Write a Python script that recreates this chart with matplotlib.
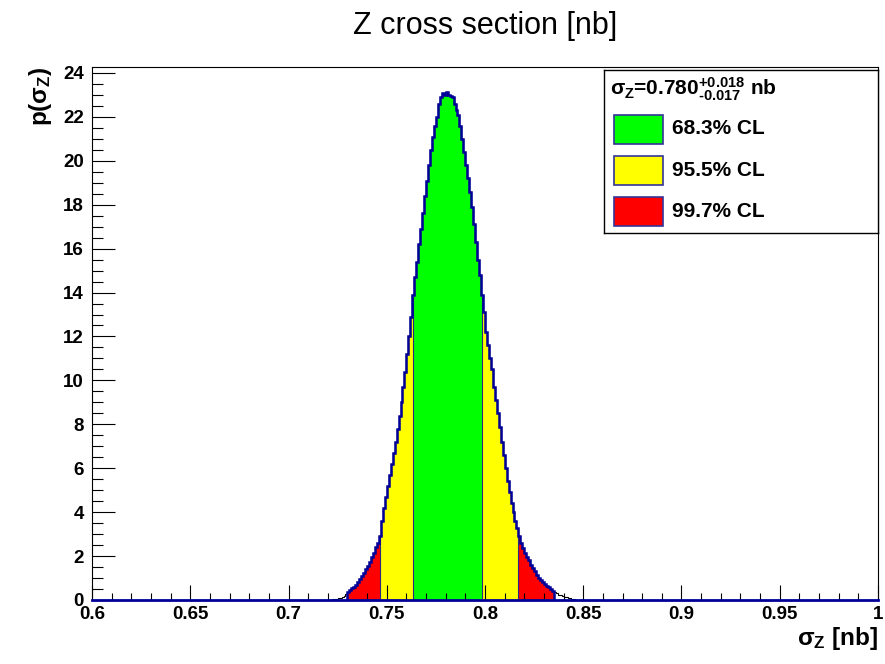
import matplotlib
matplotlib.use("Agg")
import matplotlib.pyplot as plt
from matplotlib.patches import Rectangle
import numpy as np

plt.rcParams['font.family'] = ['Liberation Sans', 'DejaVu Sans']
plt.rcParams['font.weight'] = 'bold'
plt.rcParams['mathtext.fontset'] = 'custom'
plt.rcParams['mathtext.rm'] = 'Liberation Sans:bold'
plt.rcParams['mathtext.it'] = 'Liberation Sans'
plt.rcParams['mathtext.bf'] = 'Liberation Sans:bold'
plt.rcParams['mathtext.sf'] = 'Liberation Sans:bold'

# posterior p(sigma_Z), 0.001 nb bins from bin_start
bin_start = 0.720
bin_width = 0.001
density = [
    0.01, 0.02, 0.03, 0.04, 0.06, 0.08, 0.11, 0.15, 0.20, 0.26,   # 0.720
    0.36, 0.45, 0.55, 0.60, 0.70, 0.82, 0.95, 1.10, 1.25, 1.40,   # 0.730
    1.55, 1.75, 1.95, 2.15, 2.40, 2.60, 2.90, 3.60, 4.20, 4.70,   # 0.740
    5.20, 5.70, 6.20, 6.70, 7.20, 7.80, 8.40, 9.00, 9.70, 10.40,  # 0.750
    11.20, 12.00, 12.90, 13.90, 14.70, 15.40, 16.20, 16.90, 17.60, 18.40,  # 0.760
    19.10, 19.80, 20.50, 21.10, 21.60, 22.00, 22.60, 22.90, 23.10, 23.00,  # 0.770
    23.15, 23.00, 22.95, 22.90, 22.60, 22.30, 22.10, 21.60, 21.00, 20.40,  # 0.780
    19.80, 19.20, 18.60, 17.90, 17.10, 16.30, 15.50, 14.80, 13.90, 13.10,  # 0.790
    12.20, 11.60, 11.00, 10.50, 9.70, 9.10, 8.50, 7.90, 7.20, 6.60,       # 0.800
    6.00, 5.40, 4.90, 4.40, 4.00, 3.60, 3.30, 2.90, 2.60, 2.35,           # 0.810
    2.15, 1.95, 1.80, 1.60, 1.45, 1.30, 1.15, 1.00, 0.90, 0.80,           # 0.820
    0.72, 0.64, 0.57, 0.50, 0.42, 0.36, 0.30, 0.25, 0.21, 0.18,           # 0.830
    0.15, 0.12, 0.10, 0.08, 0.05, 0.03,                                   # 0.840
]

x_range = (0.6, 1.0)
y_max = 24.27
# credibility bands: 99.7%, 95.5%, 68.3%
band_limits = [(0.7299, 0.8351), (0.7466, 0.8169), (0.7632, 0.7986)]
band_colors = ['#ff0000', '#ffff00', '#00ff00']
band_labels = ['99.7% CL', '95.5% CL', '68.3% CL']
mode, err_up, err_down = 0.780, 0.018, 0.017

navy = '#000099'

fig = plt.figure(figsize=(8.85, 6.64), dpi=100)
ax = fig.add_axes([92 / 885, 1 - 600 / 664, 786 / 885, 533 / 664])

density = np.array(density)
edges = bin_start + bin_width * np.arange(len(density) + 1)


def clipped(lo, hi):
    e = np.clip(edges, lo, hi)
    keep = e[1:] > e[:-1]
    ee = np.append(e[:-1][keep], e[1:][keep][-1])
    return density[keep], ee


for (lo, hi), col in zip(band_limits, band_colors):
    v, e = clipped(lo, hi)
    ax.stairs(v, e, fill=True, facecolor=col, edgecolor='#2a2a80',
              linewidth=0.8, zorder=1)

ax.stairs(density, edges, color='black', linewidth=0.8, zorder=2)
v, e = clipped(*band_limits[0])
ax.stairs(v, e, color=navy, linewidth=1.8, zorder=3)
ax.plot(x_range, [0, 0], color=navy, linewidth=2, zorder=4, clip_on=False)

ax.set_xlim(*x_range)
ax.set_ylim(0, y_max)
ax.set_xticks(np.arange(0.6, 1.0001, 0.05))
ax.set_xticks(np.arange(0.6, 1.0001, 0.01), minor=True)
ax.set_yticks(np.arange(0, 25, 2))
ax.set_yticks(np.arange(0, 24.3, 0.5), minor=True)
ax.set_xticklabels(['0.6', '0.65', '0.7', '0.75', '0.8', '0.85', '0.9', '0.95', '1'])
ax.tick_params(axis='both', which='both', direction='in', width=0.8,
               labelsize=13.5, top=False, right=False)
ax.tick_params(axis='x', which='major', length=11, pad=4)
ax.tick_params(axis='x', which='minor', length=5)
ax.tick_params(axis='y', which='major', length=16.5, pad=6)
ax.tick_params(axis='y', which='minor', length=8)
for s in ax.spines.values():
    s.set_linewidth(0.8)

ax.set_xlabel(r'$\sigma_{\mathbf{Z}}\ \mathrm{[nb]}$', fontsize=17.5, loc='right', labelpad=2)
ax.set_ylabel(r'$\mathrm{p(}\sigma_{\mathbf{Z}}\mathrm{)}$', fontsize=17.5, loc='top', labelpad=6)

fig.text(485 / 885, 1 - 26 / 664, 'Z cross section [nb]', fontsize=22,
         fontweight='normal', ha='center', va='center')

# legend box
lax = fig.add_axes([604 / 885, 1 - 233 / 664, 274 / 885, 163 / 664])
lax.set_xlim(0, 274)
lax.set_ylim(163, 0)
lax.set_xticks([])
lax.set_yticks([])
for s in lax.spines.values():
    s.set_linewidth(1.0)
    s.set_color('black')
lax.text(6, 19, r'$\sigma_{\mathbf{Z}}\text{=%.3f}^{\text{+%.3f}}_{\text{-%.3f}}\ \text{nb}$'
         % (mode, err_up, err_down), fontsize=15, ha='left', va='center')
for i, (col, lab) in enumerate(zip(band_colors[::-1], band_labels[::-1])):
    yc = 59 + 41.5 * i
    lax.add_patch(Rectangle((10, yc - 14.5), 49, 29, facecolor=col,
                            edgecolor='#333399', linewidth=1.2))
    lax.text(68, yc, lab, fontsize=15, ha='left', va='center')

fig.savefig('out.png', dpi=100)
